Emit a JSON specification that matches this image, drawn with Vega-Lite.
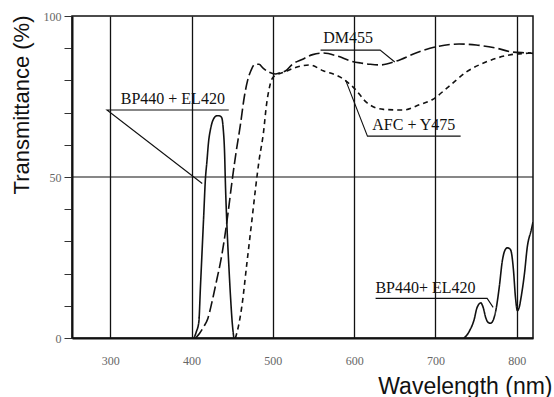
{
  "$schema": "https://vega.github.io/schema/vega-lite/v6.json",
  "width": 461,
  "height": 322,
  "autosize": {"type": "none"},
  "padding": {"left": 72, "top": 16, "right": 21, "bottom": 59},
  "background": "white",
  "config": {"view": {"stroke": "#111", "strokeWidth": 1.5}, "font": "Liberation Serif"},
  "datasets": {
    "curves": [
      {"series": "BP440+EL420 ex", "wl": 403, "t": 0},
      {"series": "BP440+EL420 ex", "wl": 406, "t": 2},
      {"series": "BP440+EL420 ex", "wl": 409, "t": 5},
      {"series": "BP440+EL420 ex", "wl": 411, "t": 16},
      {"series": "BP440+EL420 ex", "wl": 413, "t": 27},
      {"series": "BP440+EL420 ex", "wl": 415, "t": 38},
      {"series": "BP440+EL420 ex", "wl": 417, "t": 49},
      {"series": "BP440+EL420 ex", "wl": 419, "t": 55},
      {"series": "BP440+EL420 ex", "wl": 421, "t": 61},
      {"series": "BP440+EL420 ex", "wl": 423.5, "t": 65},
      {"series": "BP440+EL420 ex", "wl": 427, "t": 68},
      {"series": "BP440+EL420 ex", "wl": 431, "t": 69},
      {"series": "BP440+EL420 ex", "wl": 434, "t": 69},
      {"series": "BP440+EL420 ex", "wl": 437, "t": 68.5},
      {"series": "BP440+EL420 ex", "wl": 439, "t": 65},
      {"series": "BP440+EL420 ex", "wl": 440.6, "t": 58},
      {"series": "BP440+EL420 ex", "wl": 441.8, "t": 47},
      {"series": "BP440+EL420 ex", "wl": 443.8, "t": 33.5},
      {"series": "BP440+EL420 ex", "wl": 446, "t": 22},
      {"series": "BP440+EL420 ex", "wl": 448, "t": 12.7},
      {"series": "BP440+EL420 ex", "wl": 450, "t": 5},
      {"series": "BP440+EL420 ex", "wl": 452, "t": 0},
      {"series": "DM455", "wl": 405, "t": 0},
      {"series": "DM455", "wl": 410, "t": 1.5},
      {"series": "DM455", "wl": 415, "t": 3.5},
      {"series": "DM455", "wl": 420, "t": 6},
      {"series": "DM455", "wl": 425, "t": 11},
      {"series": "DM455", "wl": 431, "t": 18},
      {"series": "DM455", "wl": 436, "t": 24},
      {"series": "DM455", "wl": 440, "t": 30},
      {"series": "DM455", "wl": 445, "t": 39},
      {"series": "DM455", "wl": 450, "t": 49},
      {"series": "DM455", "wl": 455, "t": 58},
      {"series": "DM455", "wl": 460, "t": 66},
      {"series": "DM455", "wl": 465, "t": 75},
      {"series": "DM455", "wl": 469, "t": 80},
      {"series": "DM455", "wl": 473, "t": 83},
      {"series": "DM455", "wl": 478, "t": 85},
      {"series": "DM455", "wl": 483, "t": 85},
      {"series": "DM455", "wl": 488, "t": 83.8},
      {"series": "DM455", "wl": 495, "t": 82.6},
      {"series": "DM455", "wl": 503, "t": 82},
      {"series": "DM455", "wl": 510, "t": 82.5},
      {"series": "DM455", "wl": 516, "t": 83},
      {"series": "DM455", "wl": 524, "t": 85},
      {"series": "DM455", "wl": 536, "t": 86.5},
      {"series": "DM455", "wl": 549, "t": 88},
      {"series": "DM455", "wl": 562, "t": 88.5},
      {"series": "DM455", "wl": 580, "t": 87.5},
      {"series": "DM455", "wl": 596, "t": 86},
      {"series": "DM455", "wl": 608, "t": 85.4},
      {"series": "DM455", "wl": 620, "t": 85},
      {"series": "DM455", "wl": 632, "t": 84.8},
      {"series": "DM455", "wl": 652, "t": 86},
      {"series": "DM455", "wl": 676, "t": 88.5},
      {"series": "DM455", "wl": 700, "t": 90.4},
      {"series": "DM455", "wl": 729, "t": 91.3},
      {"series": "DM455", "wl": 750, "t": 91},
      {"series": "DM455", "wl": 775, "t": 90},
      {"series": "DM455", "wl": 795, "t": 88.8},
      {"series": "DM455", "wl": 816, "t": 88.5},
      {"series": "DM455", "wl": 820, "t": 88.4},
      {"series": "AFC+Y475", "wl": 454, "t": 0},
      {"series": "AFC+Y475", "wl": 458, "t": 4},
      {"series": "AFC+Y475", "wl": 462, "t": 10},
      {"series": "AFC+Y475", "wl": 468, "t": 23},
      {"series": "AFC+Y475", "wl": 474, "t": 36},
      {"series": "AFC+Y475", "wl": 479, "t": 47},
      {"series": "AFC+Y475", "wl": 483, "t": 55},
      {"series": "AFC+Y475", "wl": 488.6, "t": 64},
      {"series": "AFC+Y475", "wl": 492, "t": 72},
      {"series": "AFC+Y475", "wl": 496, "t": 78},
      {"series": "AFC+Y475", "wl": 499, "t": 80.5},
      {"series": "AFC+Y475", "wl": 503, "t": 81.5},
      {"series": "AFC+Y475", "wl": 513, "t": 82.5},
      {"series": "AFC+Y475", "wl": 528, "t": 84},
      {"series": "AFC+Y475", "wl": 545, "t": 84.8},
      {"series": "AFC+Y475", "wl": 562, "t": 83},
      {"series": "AFC+Y475", "wl": 583, "t": 81},
      {"series": "AFC+Y475", "wl": 600, "t": 77.6},
      {"series": "AFC+Y475", "wl": 616, "t": 73},
      {"series": "AFC+Y475", "wl": 636, "t": 71},
      {"series": "AFC+Y475", "wl": 660, "t": 70.8},
      {"series": "AFC+Y475", "wl": 680, "t": 72.4},
      {"series": "AFC+Y475", "wl": 696, "t": 74},
      {"series": "AFC+Y475", "wl": 716, "t": 78},
      {"series": "AFC+Y475", "wl": 738, "t": 82.6},
      {"series": "AFC+Y475", "wl": 762, "t": 85.7},
      {"series": "AFC+Y475", "wl": 791, "t": 87.9},
      {"series": "AFC+Y475", "wl": 816, "t": 88.5},
      {"series": "AFC+Y475", "wl": 820, "t": 88.6},
      {"series": "BP440+EL420 em", "wl": 735, "t": 0},
      {"series": "BP440+EL420 em", "wl": 739, "t": 1},
      {"series": "BP440+EL420 em", "wl": 742.5, "t": 2.5},
      {"series": "BP440+EL420 em", "wl": 747.5, "t": 5.6},
      {"series": "BP440+EL420 em", "wl": 751, "t": 9.3},
      {"series": "BP440+EL420 em", "wl": 755.8, "t": 10.9},
      {"series": "BP440+EL420 em", "wl": 758.7, "t": 9.5},
      {"series": "BP440+EL420 em", "wl": 762, "t": 6.2},
      {"series": "BP440+EL420 em", "wl": 765, "t": 4.8},
      {"series": "BP440+EL420 em", "wl": 768, "t": 4.6},
      {"series": "BP440+EL420 em", "wl": 771, "t": 5.5},
      {"series": "BP440+EL420 em", "wl": 774.4, "t": 8.7},
      {"series": "BP440+EL420 em", "wl": 778.5, "t": 15.8},
      {"series": "BP440+EL420 em", "wl": 782.3, "t": 24},
      {"series": "BP440+EL420 em", "wl": 786, "t": 27.5},
      {"series": "BP440+EL420 em", "wl": 788.5, "t": 28},
      {"series": "BP440+EL420 em", "wl": 791, "t": 27.8},
      {"series": "BP440+EL420 em", "wl": 793, "t": 27},
      {"series": "BP440+EL420 em", "wl": 796, "t": 21},
      {"series": "BP440+EL420 em", "wl": 798.4, "t": 12.7},
      {"series": "BP440+EL420 em", "wl": 800.9, "t": 8.5},
      {"series": "BP440+EL420 em", "wl": 803, "t": 9.5},
      {"series": "BP440+EL420 em", "wl": 805.4, "t": 12.7},
      {"series": "BP440+EL420 em", "wl": 809.5, "t": 20},
      {"series": "BP440+EL420 em", "wl": 813, "t": 28.3},
      {"series": "BP440+EL420 em", "wl": 817.8, "t": 33.5},
      {"series": "BP440+EL420 em", "wl": 820, "t": 36}
    ],
    "leaders": [
      {"id": "L1", "k": 1, "wl": 445.8, "t": 70.8},
      {"id": "L1", "k": 2, "wl": 296, "t": 70.8},
      {"id": "L1", "k": 3, "wl": 413.2, "t": 48},
      {"id": "L2", "k": 1, "wl": 558.7, "t": 89.4},
      {"id": "L2", "k": 2, "wl": 632, "t": 89.4},
      {"id": "L2", "k": 3, "wl": 650, "t": 85.7},
      {"id": "L3", "k": 1, "wl": 589.5, "t": 80.1},
      {"id": "L3", "k": 2, "wl": 616.4, "t": 62.7},
      {"id": "L3", "k": 3, "wl": 731, "t": 62.7},
      {"id": "L4", "k": 1, "wl": 626.4, "t": 12.3},
      {"id": "L4", "k": 2, "wl": 763.6, "t": 12.3},
      {"id": "L4", "k": 3, "wl": 771, "t": 9.5},
      {"id": "G50", "k": 1, "wl": 253, "t": 50},
      {"id": "G50", "k": 2, "wl": 820, "t": 50}
    ],
    "labels": [
      {"text": "BP440 + EL420", "wl": 377, "t": 72.7},
      {"text": "DM455", "wl": 592.7, "t": 91.6},
      {"text": "AFC + Y475", "wl": 673.4, "t": 64.6},
      {"text": "BP440+ EL420", "wl": 687.8, "t": 13.9}
    ]
  },
  "encoding": {
    "x": {
      "field": "wl", "type": "quantitative",
      "scale": {"domain": [253, 820], "nice": false, "zero": false},
      "axis": {
        "values": [300, 400, 500, 600, 700, 800],
        "grid": true, "gridColor": "#111", "gridWidth": 1.3, "gridOpacity": 1,
        "ticks": false, "domain": true, "domainColor": "#111", "domainWidth": 2,
        "labelFont": "Liberation Serif", "labelFontSize": 12, "labelColor": "#666", "labelPadding": 17,
        "title": "Wavelength (nm)", "titleFont": "Liberation Sans", "titleFontSize": 23,
        "titleFontWeight": "normal", "titleColor": "#111",
        "titleX": 480, "titleY": 55, "titleAlign": "right", "titleBaseline": "alphabetic"
      }
    },
    "y": {
      "field": "t", "type": "quantitative",
      "scale": {"domain": [0, 100], "nice": false},
      "axis": {
        "values": [0, 10, 20, 30, 40, 50, 60, 70, 80, 90, 100],
        "grid": false,
        "ticks": true, "tickSize": 8, "tickColor": "#333", "tickWidth": 1,
        "labelExpr": "datum.value == 0 || datum.value == 50 || datum.value == 100 ? datum.label : ''",
        "labelOverlap": false,
        "labelFont": "Liberation Serif", "labelFontSize": 12, "labelColor": "#666", "labelPadding": 3,
        "domainColor": "#111", "domainWidth": 2,
        "title": "Transmittance (%)", "titleFont": "Liberation Sans", "titleFontSize": 22,
        "titleFontWeight": "normal", "titleColor": "#111", "titleAngle": -90,
        "titleX": -44, "titleY": -1, "titleAlign": "right", "titleBaseline": "alphabetic"
      }
    }
  },
  "layer": [
    {
      "data": {"name": "curves"},
      "mark": {"type": "line", "interpolate": "monotone", "strokeWidth": 1.6, "color": "#111", "clip": true},
      "encoding": {
        "detail": {"field": "series"},
        "strokeDash": {
          "field": "series", "type": "nominal",
          "scale": {
            "domain": ["BP440+EL420 ex", "BP440+EL420 em", "DM455", "AFC+Y475"],
            "range": [[1, 0], [1, 0], [11, 4], [5, 4]]
          },
          "legend": null
        }
      }
    },
    {
      "data": {"name": "leaders"},
      "mark": {"type": "line", "strokeWidth": 1.1, "color": "#111"},
      "encoding": {
        "detail": {"field": "id"},
        "order": {"field": "k", "type": "quantitative"},
        "strokeWidth": {
          "field": "id", "type": "nominal",
          "scale": {"domain": ["L1", "L2", "L3", "L4", "G50"], "range": [1.1, 1.1, 1.1, 1.1, 1.3]},
          "legend": null
        }
      }
    },
    {
      "data": {"name": "labels"},
      "mark": {"type": "text", "font": "Liberation Serif", "fontSize": 16, "color": "#111", "align": "center", "baseline": "alphabetic"},
      "encoding": {
        "text": {"field": "text"}
      }
    }
  ]
}
